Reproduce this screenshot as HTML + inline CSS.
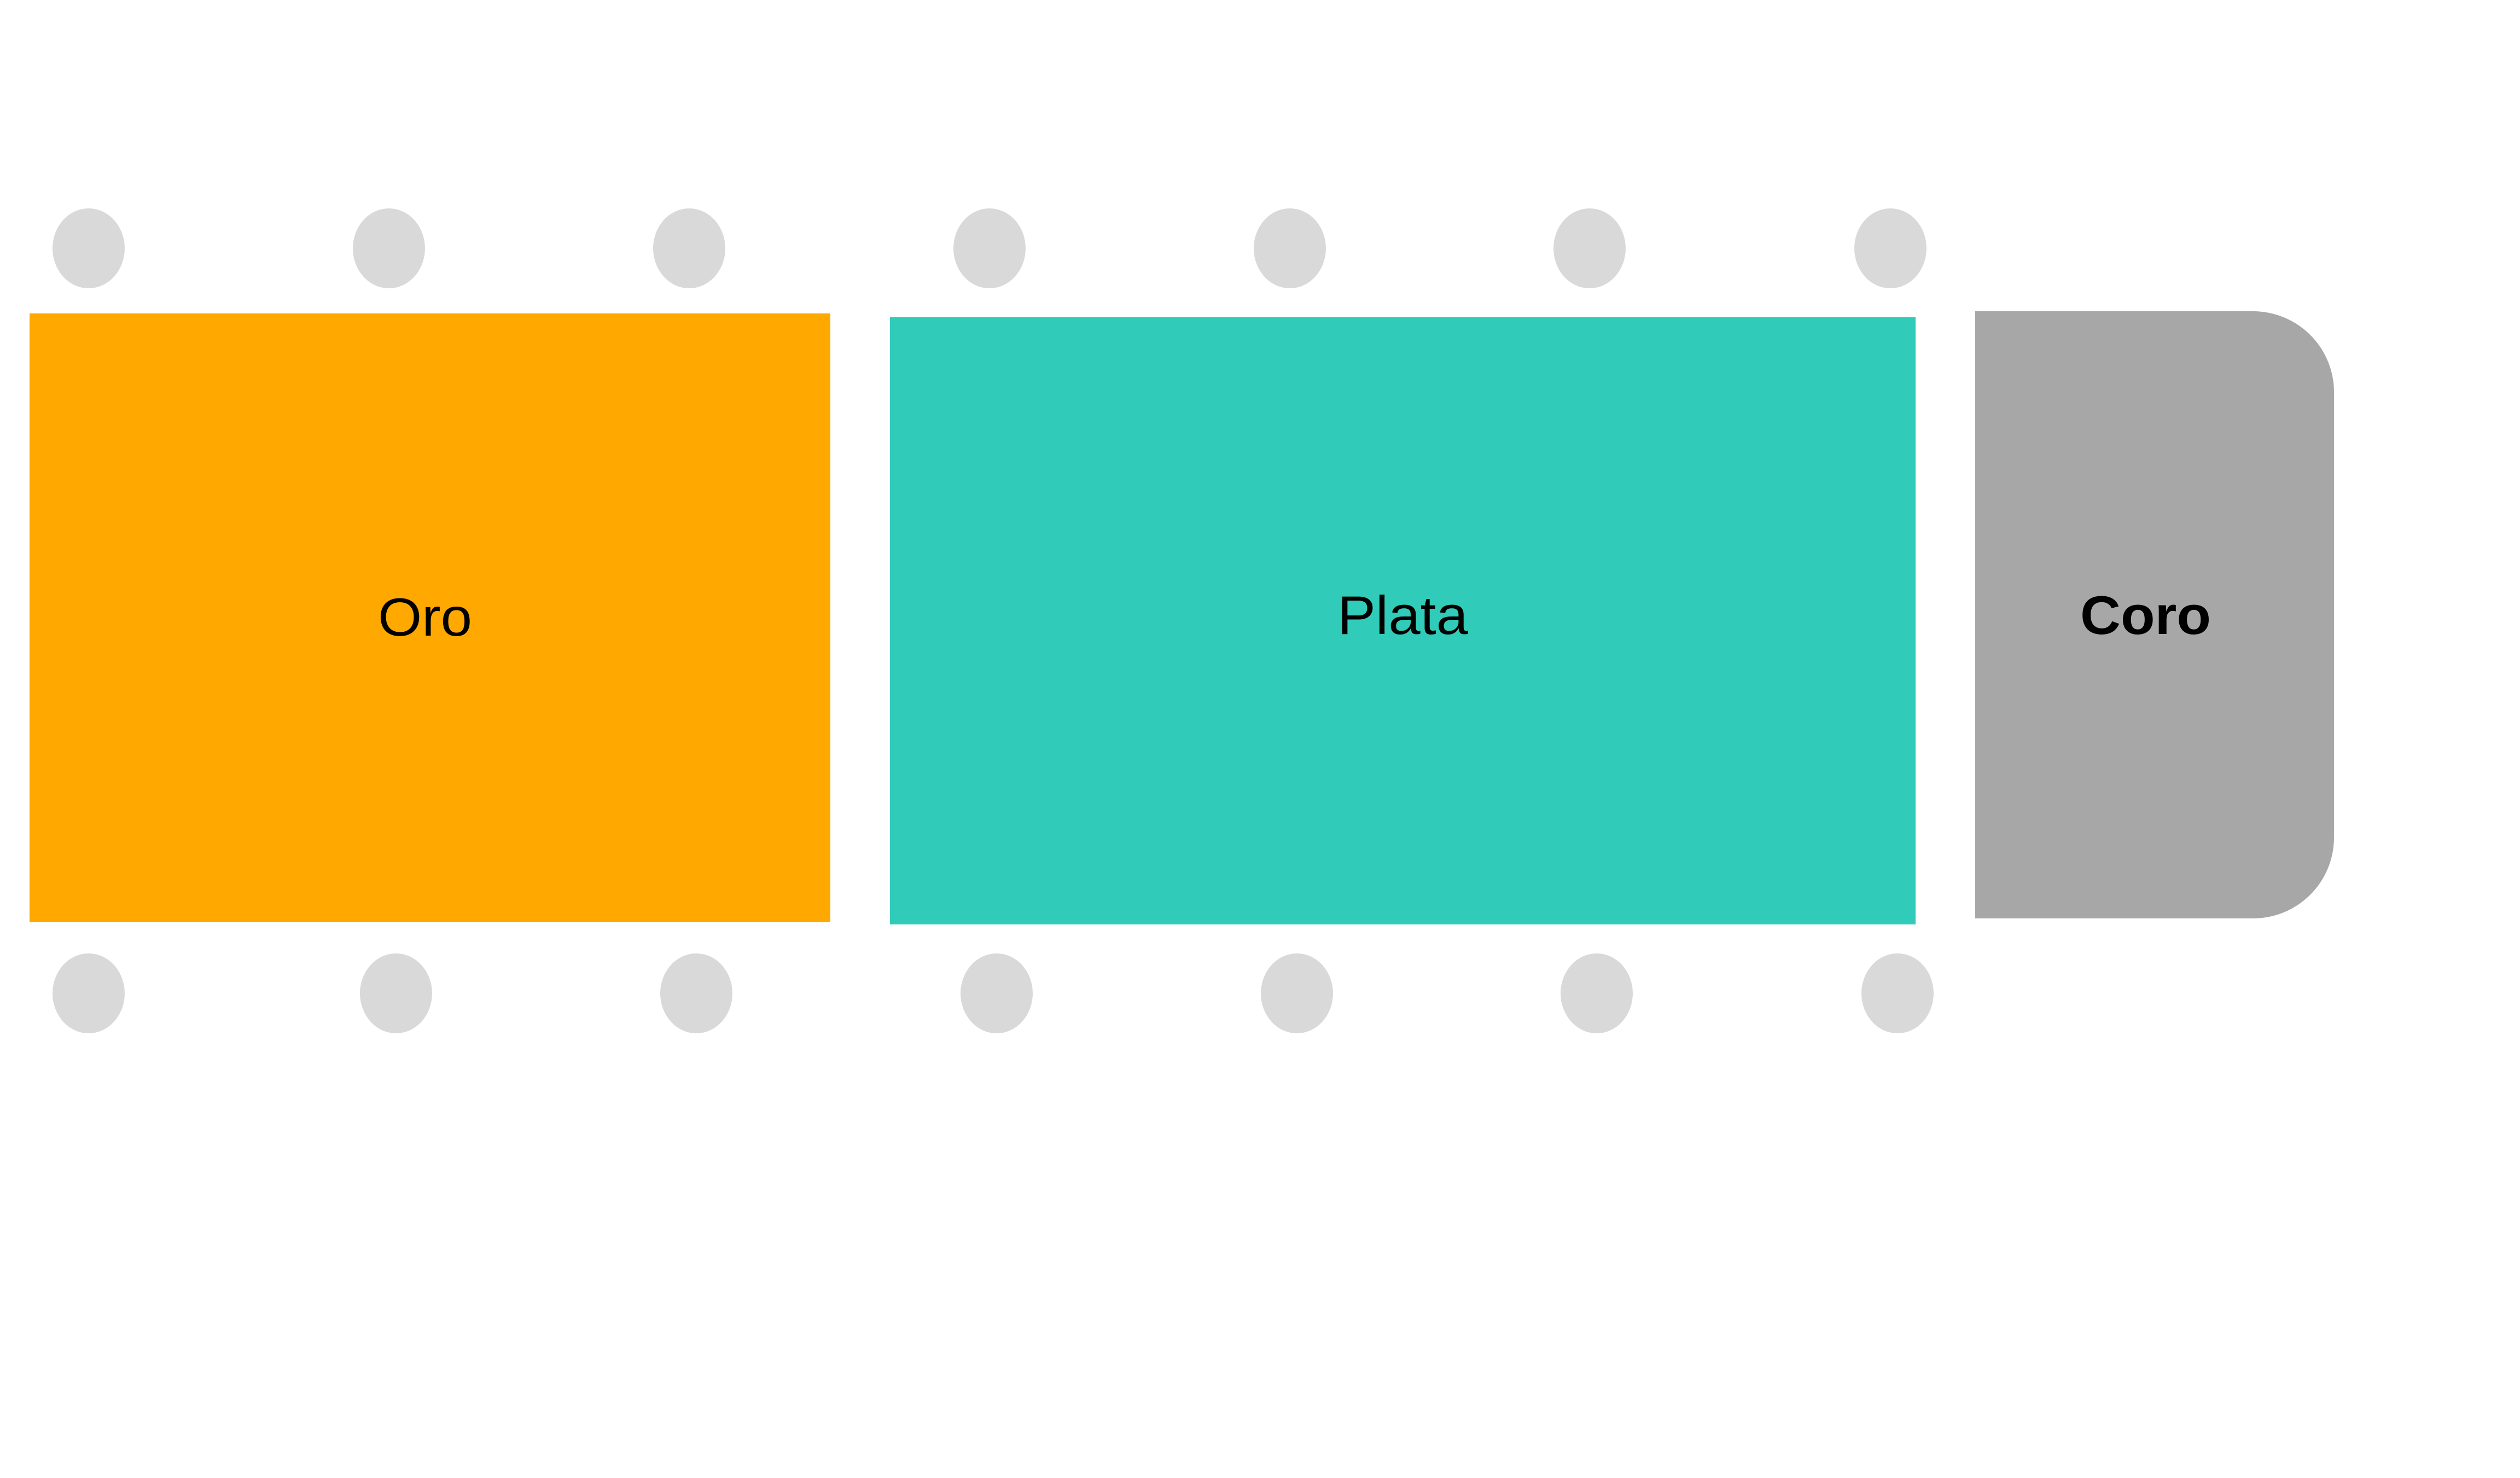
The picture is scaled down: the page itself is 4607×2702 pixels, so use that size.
<!DOCTYPE html>
<html>
<head>
<meta charset="utf-8">
<style>
  html, body { margin: 0; padding: 0; background: #ffffff; }
  body { width: 4607px; height: 2702px; overflow: hidden; }
  svg { display: block; }
</style>
</head>
<body>
<svg width="4607" height="2702" viewBox="0 0 4607 2702" xmlns="http://www.w3.org/2000/svg">
  <rect x="0" y="0" width="4607" height="2702" fill="#ffffff"/>

  <!-- Top seats -->
  <g fill="#D9D9D9">
    <ellipse cx="162" cy="454" rx="66" ry="73"/>
    <ellipse cx="711" cy="454" rx="66" ry="73"/>
    <ellipse cx="1260" cy="454" rx="66" ry="73"/>
    <ellipse cx="1809" cy="454" rx="66" ry="73"/>
    <ellipse cx="2358" cy="454" rx="66" ry="73"/>
    <ellipse cx="2906" cy="454" rx="66" ry="73"/>
    <ellipse cx="3456" cy="454" rx="66" ry="73"/>
  </g>

  <!-- Bottom seats -->
  <g fill="#D9D9D9">
    <ellipse cx="162" cy="1816" rx="66" ry="73"/>
    <ellipse cx="724" cy="1816" rx="66" ry="73"/>
    <ellipse cx="1273" cy="1816" rx="66" ry="73"/>
    <ellipse cx="1822" cy="1816" rx="66" ry="73"/>
    <ellipse cx="2371" cy="1816" rx="66" ry="73"/>
    <ellipse cx="2919" cy="1816" rx="66" ry="73"/>
    <ellipse cx="3469" cy="1816" rx="66" ry="73"/>
  </g>

  <!-- Oro -->
  <rect x="54" y="573" width="1464" height="1113" fill="#FFA800"/>
  <!-- Plata -->
  <rect x="1627" y="580" width="1875" height="1110" fill="#31CCB9"/>
  <!-- Coro -->
  <path d="M3611 569 H4119 A148 148 0 0 1 4267 717 V1531 A148 148 0 0 1 4119 1679 H3611 Z" fill="#A7A7A7"/>

  <g font-family="'Liberation Sans', sans-serif" fill="#000000">
    <text x="691" y="1162" font-size="98" textLength="172" lengthAdjust="spacingAndGlyphs">Oro</text>
    <text x="2445" y="1159" font-size="99" textLength="239" lengthAdjust="spacingAndGlyphs">Plata</text>
    <text x="3803" y="1159" font-size="99" font-weight="bold" textLength="239" lengthAdjust="spacingAndGlyphs">Coro</text>
  </g>
</svg>
</body>
</html>
